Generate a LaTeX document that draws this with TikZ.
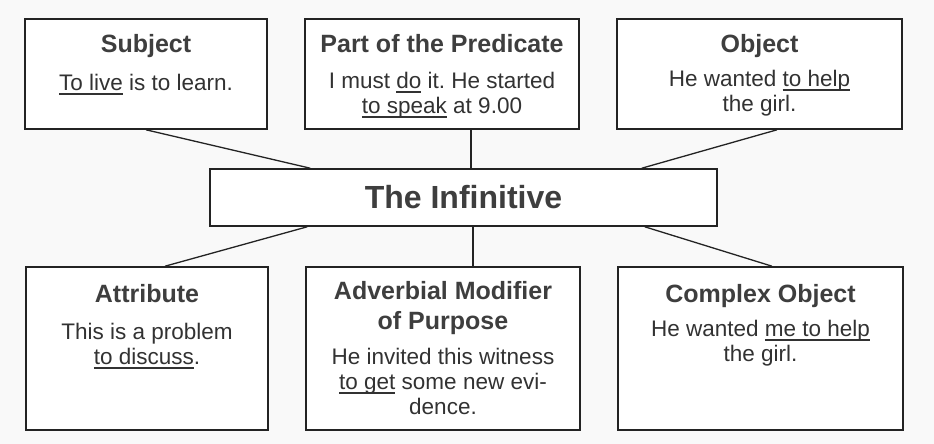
\documentclass[tikz,border=0pt]{standalone}
\usepackage{fontspec}
\setmainfont{Liberation Sans}
\usepackage{tikz}
\usetikzlibrary{positioning}
\frenchspacing
\definecolor{cInk}{RGB}{50,50,50}
\definecolor{cHead}{RGB}{62,62,62}
\definecolor{cLine}{RGB}{35,35,35}
\definecolor{cPaper}{RGB}{249,249,249}
\newcommand{\undl}[1]{\setbox0\hbox{#1}\rlap{\rule[-4pt]{\wd0}{1.5pt}}\box0\relax}
\tikzset{
	usebox/.style  ={rectangle, draw=cLine, line width=1.6pt, fill=white, inner sep=0pt},
	headtxt/.style ={anchor=north, inner sep=0pt, align=center, text=cHead, font=\fontsize{25}{30}\selectfont\bfseries},
	bodytxt/.style ={anchor=north, inner sep=0pt, align=center, text=cInk, font=\fontsize{22.5}{25}\selectfont},
	joinline/.style={draw=cLine, line width=1.3pt},
}
\begin{document}
\begin{tikzpicture}[x=1pt, y=-1pt]
	\useasboundingbox[fill=cPaper] (0,0) rectangle (934,444);
	% upper row
	\node[usebox, minimum width=242pt, minimum height=110pt] (sub)  at (146,74)   {};
	\node[usebox, minimum width=274pt, minimum height=110pt] (pred) at (442,74)   {};
	\node[usebox, minimum width=285pt, minimum height=110pt] (obj)  at (759.5,74) {};
	% the centre box
	\node[usebox, minimum width=507pt, minimum height=57pt, text=cHead, font=\fontsize{32}{36}\selectfont\bfseries] (inf) at (463.5,197.5) {The Infinitive};
	% lower row
	\node[usebox, minimum width=242pt, minimum height=163pt] (att)  at (147,348.5)   {};
	\node[usebox, minimum width=274pt, minimum height=163pt] (adv)  at (443,348.5)   {};
	\node[usebox, minimum width=285pt, minimum height=163pt] (cplx) at (760.5,348.5) {};
	% connectors
	\draw[joinline] (sub.south) -- ([xshift=101pt]inf.north west);
	\draw[joinline] ([xshift=29pt]pred.south) -- ([xshift=7.5pt]inf.north);
	\draw[joinline] ([xshift=17.5pt]obj.south) -- ([xshift=-76pt]inf.north east);
	\draw[joinline] ([xshift=98pt]inf.south west) -- ([xshift=18pt]att.north);
	\draw[joinline] ([xshift=9.5pt]inf.south) -- ([xshift=30pt]adv.north);
	\draw[joinline] ([xshift=-73pt]inf.south east) -- ([xshift=11.5pt]cplx.north);
	% texts
	\node[headtxt, below=16pt of sub.north]  (sub-h)  {Subject};
	\node[bodytxt, below=56pt of sub.north]  (sub-b)  {\undl{To live} is to learn.};
	\node[headtxt, below=16pt of pred.north] (pred-h) {Part of the Predicate};
	\node[bodytxt, below=54pt of pred.north] (pred-b) {I must \undl{do} it. He started\\\undl{to speak} at 9.00};
	\node[headtxt, below=16pt of obj.north]  (obj-h)  {Object};
	\node[bodytxt, below=52pt of obj.north]  (obj-b)  {He wanted \undl{to help}\\the girl.};
	\node[headtxt, below=18pt of att.north]  (att-h)  {Attribute};
	\node[bodytxt, below=57pt of att.north]  (att-b)  {This is a problem\\\undl{to discuss}.};
	\node[headtxt, below=15pt of adv.north]  (adv-h)  {Adverbial Modifier\\of Purpose};
	\node[bodytxt, below=82pt of adv.north]  (adv-b)  {He invited this witness\\\undl{to get} some new evi-\\dence.};
	\node[headtxt, below=18pt of cplx.north] (cplx-h) {Complex Object};
	\node[bodytxt, below=54pt of cplx.north] (cplx-b) {He wanted \undl{me to help}\\the girl.};
\end{tikzpicture}
\end{document}
